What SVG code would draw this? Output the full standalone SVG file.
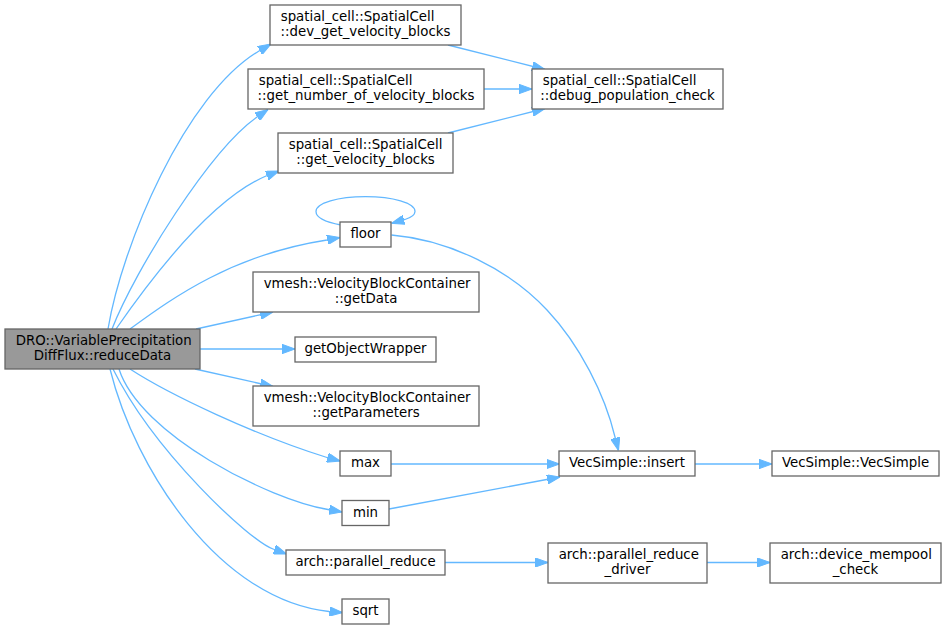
<svg xmlns="http://www.w3.org/2000/svg" width="947" height="630" viewBox="0 0 947 630">
<style>
.n rect{fill:#ffffff;stroke:#666666;stroke-width:1.3}
.n.main rect{fill:#999999}
.n text{font-family:"DejaVu Sans",sans-serif;font-size:13.33px;fill:#000000}
.m{text-anchor:middle}
.e path{fill:none;stroke:#63b8ff;stroke-width:1.3;marker-end:url(#ah)}
</style>
<defs>
<marker id="ah" viewBox="0 0 13 9.4" markerWidth="13" markerHeight="9.4" refX="13" refY="4.7" orient="auto" markerUnits="userSpaceOnUse">
<path d="M0,0 L13,4.7 L0,9.4 z" fill="#63b8ff" stroke="#63b8ff" stroke-width="1"/>
</marker>
</defs>
<rect width="947" height="630" fill="#ffffff"/>
<g id="edges" class="e">
<path d="M108,329 C122,245 185,95 259,51 L271,44"/>
<path d="M112,329 C135,270 210,150 257,117 L268,109.5"/>
<path d="M116,329 C150,280 210,200 266,176 L279,171"/>
<path d="M130,329 C170,300 230,255 327,240 L340,237.5"/>
<path d="M341,225 C325,222 316,217 316,211.5 C316,203 338,196.7 365.5,196.7 C393,196.7 415,203 415,211.5 C415,215 411,217.5 405,219.5 L391.5,223.3"/>
<path d="M196,329 L273,312"/>
<path d="M200,349 L295,349"/>
<path d="M195,369 L273,386.5"/>
<path d="M130,369 C170,395 255,435 327,457.5 L340,461"/>
<path d="M119,369 C140,435 270,500 328,509.5 L342,512"/>
<path d="M113,369 C154,452 250,541 273,549 L286.5,554"/>
<path d="M110,369 C135,470 220,600 329,611.5 L342.5,612.5"/>
<path d="M448,45 L545,69.5"/>
<path d="M484,89 L532,89"/>
<path d="M448,133 L545,108.5"/>
<path d="M391.5,235 C450,240 510,270 547,310 C580,345 605,395 615,437 L618.5,450.5"/>
<path d="M391,464 L559.5,464"/>
<path d="M389,509 L560,477"/>
<path d="M695,464 L772,464"/>
<path d="M445,562.5 L548,562.5"/>
<path d="M707,562.5 L770,562.5"/>
</g>
<g id="node_main" class="n main">
<rect x="5" y="329" width="195" height="40"/>
<text x="15.7" y="345.3">DRO::VariablePrecipitation</text>
<text class="m" x="102.5" y="360">DiffFlux::reduceData</text>
</g>
<g id="node_dev_get_velocity_blocks" class="n">
<rect x="270" y="5" width="191" height="40"/>
<text x="280.7" y="21.3">spatial_cell::SpatialCell</text>
<text class="m" x="365.5" y="36">::dev_get_velocity_blocks</text>
</g>
<g id="node_get_number_of_velocity_blocks" class="n">
<rect x="248" y="69" width="236" height="40"/>
<text x="258.7" y="85.3">spatial_cell::SpatialCell</text>
<text class="m" x="366" y="100">::get_number_of_velocity_blocks</text>
</g>
<g id="node_get_velocity_blocks" class="n">
<rect x="278" y="133" width="175" height="40"/>
<text x="288.7" y="149.3">spatial_cell::SpatialCell</text>
<text class="m" x="365.5" y="164">::get_velocity_blocks</text>
</g>
<g id="node_floor" class="n">
<rect x="340" y="222" width="51" height="25"/>
<text class="m" x="365.5" y="238.3">floor</text>
</g>
<g id="node_debug_population_check" class="n">
<rect x="532" y="69" width="191" height="40"/>
<text x="542.7" y="85.3">spatial_cell::SpatialCell</text>
<text class="m" x="627.5" y="100">::debug_population_check</text>
</g>
<g id="node_getData" class="n">
<rect x="253" y="272" width="226" height="40"/>
<text x="263.7" y="288.3">vmesh::VelocityBlockContainer</text>
<text class="m" x="366" y="303">::getData</text>
</g>
<g id="node_getObjectWrapper" class="n">
<rect x="295" y="337" width="141" height="25"/>
<text class="m" x="365.5" y="353.3">getObjectWrapper</text>
</g>
<g id="node_getParameters" class="n">
<rect x="253" y="386" width="226" height="40"/>
<text x="263.7" y="402.3">vmesh::VelocityBlockContainer</text>
<text class="m" x="366" y="417">::getParameters</text>
</g>
<g id="node_max" class="n">
<rect x="340" y="451" width="51" height="25"/>
<text class="m" x="365.5" y="467.3">max</text>
</g>
<g id="node_min" class="n">
<rect x="342" y="500.5" width="47" height="25"/>
<text class="m" x="365.5" y="516.8">min</text>
</g>
<g id="node_parallel_reduce" class="n">
<rect x="286" y="550" width="159" height="25"/>
<text class="m" x="365.5" y="566.3">arch::parallel_reduce</text>
</g>
<g id="node_sqrt" class="n">
<rect x="342" y="599" width="47" height="25"/>
<text class="m" x="365.5" y="615.3">sqrt</text>
</g>
<g id="node_insert" class="n">
<rect x="559" y="451" width="136" height="25"/>
<text class="m" x="627" y="467.3">VecSimple::insert</text>
</g>
<g id="node_VecSimple" class="n">
<rect x="772" y="451" width="167" height="25"/>
<text class="m" x="855.5" y="467.3">VecSimple::VecSimple</text>
</g>
<g id="node_parallel_reduce_driver" class="n">
<rect x="548" y="543" width="159" height="40"/>
<text x="558.7" y="559.3">arch::parallel_reduce</text>
<text class="m" x="627.5" y="574">_driver</text>
</g>
<g id="node_device_mempool_check" class="n">
<rect x="770" y="543" width="171" height="40"/>
<text x="780.7" y="559.3">arch::device_mempool</text>
<text class="m" x="855.5" y="574">_check</text>
</g>
</svg>
